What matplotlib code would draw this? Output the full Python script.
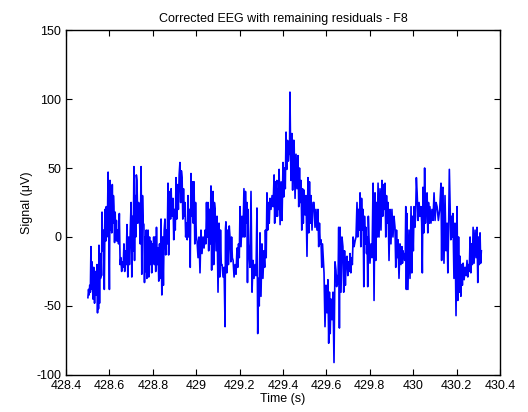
import numpy as np
from matplotlib import pyplot as plt

plt.rcParams['font.family'] = ['Liberation Sans', 'DejaVu Sans']
plt.rcParams['axes.unicode_minus'] = False

# segment start times (s), with the values (uV) seen in each
seg_start = [
    428.501, 428.515, 428.520, 428.524, 428.543, 428.552, 428.557, 428.566,
    428.580, 428.594, 428.603, 428.621, 428.635, 428.653, 428.667, 428.681,
    428.700, 428.713, 428.727, 428.746, 428.759, 428.778, 428.792, 428.810,
    428.824, 428.838, 428.856, 428.870, 428.879, 428.893, 428.907, 428.925,
    428.935, 428.948, 428.962, 428.976, 428.990, 429.004, 429.022, 429.041,
    429.054, 429.068, 429.087, 429.105, 429.119, 429.133, 429.137, 429.156,
    429.170, 429.188, 429.202, 429.220, 429.234, 429.243, 429.262, 429.280,
    429.294, 429.312, 429.326, 429.340, 429.359, 429.382, 429.400, 429.414,
    429.428, 429.432, 429.441, 429.451, 429.469, 429.483, 429.497, 429.515,
    429.529, 429.543, 429.561, 429.575, 429.589, 429.607, 429.621, 429.635,
    429.644, 429.663, 429.676, 429.695, 429.709, 429.723, 429.741, 429.755,
    429.769, 429.782, 429.796, 429.815, 429.824, 429.838, 429.856, 429.870,
    429.884, 429.902, 429.916, 429.930, 429.948, 429.958, 429.971, 429.990,
    430.004, 430.018, 430.036, 430.045, 430.064, 430.077, 430.096, 430.110,
    430.128, 430.137, 430.156, 430.170, 430.183, 430.202, 430.216, 430.230,
    430.248, 430.262, 430.276, 430.294, 430.308,
]
seg_end = 430.317

seg_vals = [
    [-44, -38, -42, -35, -40], [-7, -38], [-18], [-45, -22, -48, -25, -42],
    [-20, -55, -30, -52], [-6, -48], [-12, -30, -15, -28], [18, -10, 5, -38],
    [20, -3, 22, 0, 15], [47, 10, -38], [41, 5, 35, 3, 38, 10, 30], [22, -4, 18, -2, 12],
    [-3, 5, -5, 17, -20], [-15, -25, -18, -22], [-5, -25, -10, -20], [9, -29, 0, -20, 5],
    [25, -29, 15, -10], [51, -17, 30, 0, 45], [41, 10, 25, 15, -5], [51, -27, 30, 10],
    [9, -33, 0, -25, 5, -30, -10], [5, -29, 0, -20], [-3, -26, -5, -15, 0, -20], [0, -25, 7, -20],
    [-8, -32, -5, -30], [13, -42, 0, -35, 5], [13, -13, 5, -5], [39, -13, 20],
    [33, 13, 35, 15, 25], [28, -2, 20, 5], [43, 13, 38, 20, 45], [54, 25, 48],
    [43, 13, 35, 15], [25, 0, 10, -2], [30, 0, 20, -22], [46, 15, 40, 10],
    [40, -5, 25, 0], [-3, -15, 0, -26], [5, -12, 0, -8], [5, -5, 25, 0],
    [25, -10, 20, -5], [37, -24, 30, 33, -20, 25], [20, -10, 15, -40], [10, -29, 5, -20],
    [-20, -29, -22], [-65, 6], [11, -26, 5, -20, 8], [-1, -18, 0, -15],
    [-17, -29, -20, -27], [-8, -22, -5, -15], [22, -7, 15, 0], [35, 0, 33, 10],
    [25, -33, 20, -5], [-10, -22, 33, -40], [-17, -30, -20, -28], [21, -70, -30, -50],
    [3, -43, -5, -30], [-10, -22, 5, -15], [32, 5, 25, 10], [28, 20, 30, 22],
    [45, 10, 40, 15, 38, 41, 15, 35, 20], [49, 9, 40, 12], [54, 29, 50, 35], [76, 49, 70, 55],
    [62, 60], [105, 41], [75, 34, 70], [70, 28, 60, 35],
    [59, 22, 50, 25], [41, 5, 35, 10], [34, 16, 30, -14], [43, 3, 40, 10],
    [30, 5, 25], [25, 7, 20, 5], [20, -7, 10, -5], [-2, -22, -5, -15],
    [-26, -65, -35, -55], [-31, -77, -40, -70], [-45, -60, -40], [-91, -18],
    [-24, -36, -28, -34, 7, -66], [7, -40, 0], [-7, -40, -10, -35, -15], [-14, -28, -18, -25],
    [-12, -26, -15, -20], [0, -7, -3, 0], [25, 0, 20, 5], [32, -7, 28, 5],
    [20, -36, 15, -5], [7, -12, 0, -36, 15], [0, -19, -5, -15], [39, -46],
    [32, -17, 25, 0], [39, 0, 35, 5], [41, 15, 38, 20], [39, 0, 30, 10],
    [25, -17, 20, -5], [20, 0, 15], [7, -22, 5, -15], [-2, -30, -5, -20],
    [-7, -19, -10, -15], [-12, -17, -14, 22, -38], [17, -38, 5, -30], [22, -26, 15, -10],
    [22, 7, 15, 43], [32, 12, 25, 15], [22, 10, -26], [36, 3, 50, 10, 30],
    [32, 3, 25, 10], [22, 10, 20, 12], [32, 12, 25], [22, 12, 20],
    [39, -17, 35], [36, -19, 30, -10], [10, -26, 5, 49], [22, -2, 15, 0],
    [17, -30, 10, -57], [22, -46, 0, -40], [-14, -43, -20, -35], [-19, -31, -22, -28],
    [-17, -29, -20, -25], [0, -26, -5, -20], [7, -19, 5, -15], [7, -33, 0, -20],
    [3, -19, -10],
]

x_ticks = [428.4, 428.6, 428.8, 429, 429.2, 429.4, 429.6, 429.8, 430, 430.2, 430.4]
y_ticks = [-100, -50, 0, 50, 100, 150]


# spread each segment's samples evenly over its time span
def build_trace():
    bounds = seg_start + [seg_end]
    t, v = [], []
    for i, vals in enumerate(seg_vals):
        ts = np.linspace(bounds[i], bounds[i + 1], len(vals), endpoint=False)
        t.extend(ts)
        v.extend(vals)
    return np.array(t), np.array(v, dtype=float)


t, v = build_trace()

fig = plt.figure(figsize=(5.28, 4.12), dpi=100)
ax = fig.add_axes([0.125, 0.09, 0.822, 0.837])
ax.plot(t, v, color='#0000ff', linewidth=1.2)

ax.set_xlim(428.4, 430.4)
ax.set_ylim(-100, 150)
ax.set_xticks(x_ticks)
ax.set_xticklabels([f'{x:g}' for x in x_ticks])
ax.set_yticks(y_ticks)
ax.tick_params(direction='in', top=True, right=True, labelsize=9, length=4, width=0.8)
for s in ax.spines.values():
    s.set_linewidth(1.0)

ax.set_title('Corrected EEG with remaining residuals - F8', fontsize=9, pad=6)
ax.set_xlabel('Time (s)', fontsize=9, labelpad=1)
ax.set_ylabel('Signal (\u03bcV)', fontsize=9, labelpad=2)

fig.savefig('out.png', dpi=100)
